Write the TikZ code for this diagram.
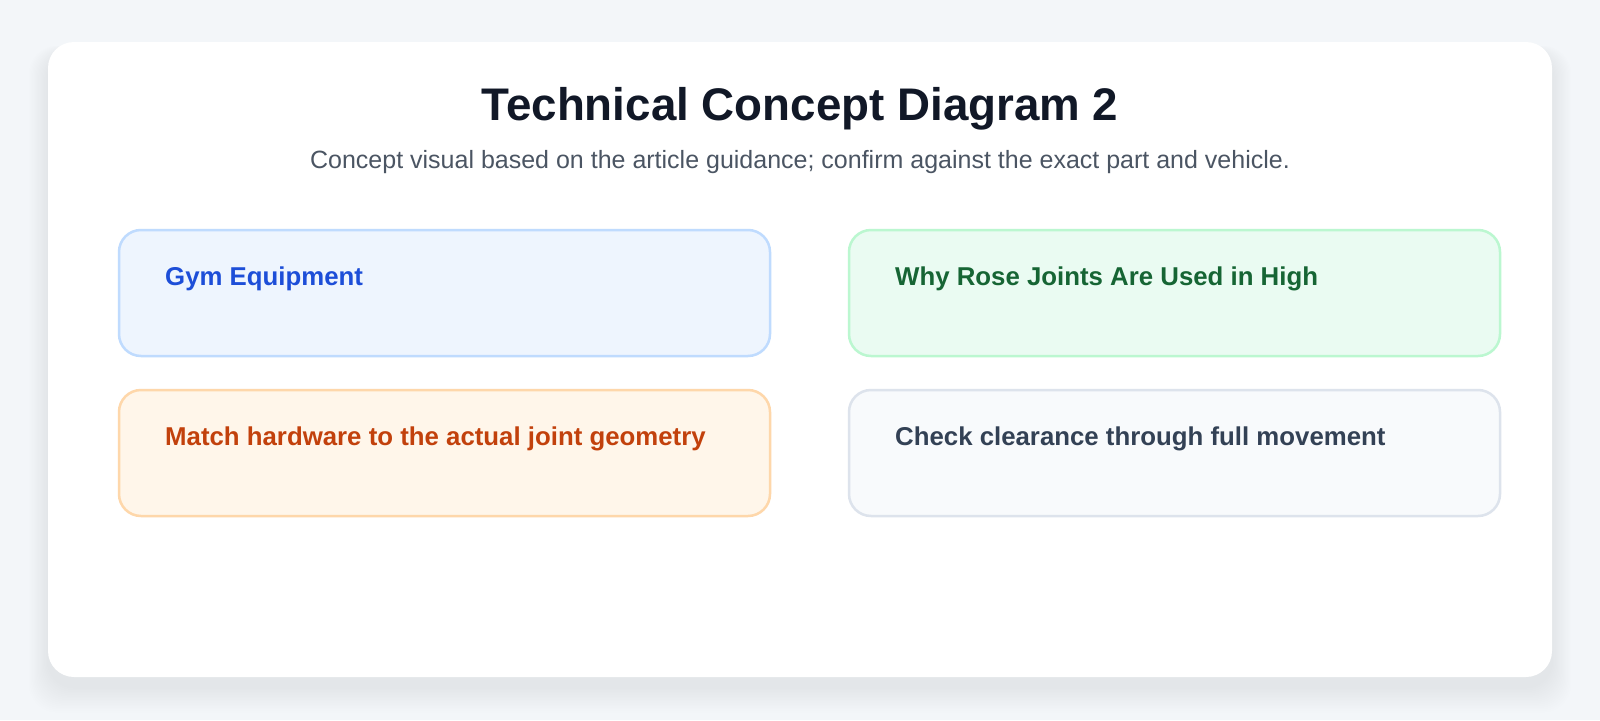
\documentclass[tikz,border=0pt]{standalone}
\usepackage{fontspec}
\setmainfont{Liberation Sans}
\definecolor{bgc}{HTML}{F3F6F9}
\definecolor{titlec}{HTML}{111827}
\definecolor{subc}{HTML}{4B5563}
\definecolor{bluefill}{HTML}{EEF5FE}
\definecolor{blueline}{HTML}{BFDBFE}
\definecolor{bluetext}{HTML}{1D4ED8}
\definecolor{greenfill}{HTML}{EAFBF2}
\definecolor{greenline}{HTML}{BBF7D0}
\definecolor{greentext}{HTML}{166534}
\definecolor{orangefill}{HTML}{FFF6EA}
\definecolor{orangeline}{HTML}{FED7AA}
\definecolor{orangetext}{HTML}{C2410C}
\definecolor{grayfill}{HTML}{F8FAFC}
\definecolor{grayline}{HTML}{DDE3EC}
\definecolor{graytext}{HTML}{334155}
\tikzset{
  card/.style={rectangle, rounded corners=22pt, line width=2.5pt, minimum width=651pt, minimum height=126pt, inner sep=0pt},
  cardtext/.style={anchor=base west, inner sep=0pt, font=\fontsize{25.8}{30}\selectfont\bfseries},
}
\begin{document}
\begin{tikzpicture}[x=1pt,y=-1pt]
\useasboundingbox (0,0) rectangle (1600,720);
\fill[bgc] (0,0) rectangle (1600,720);
% shadow
\foreach \i in {1,...,16}{
  \fill[black, opacity=0.0045, rounded corners=28pt] (48-\i*1.2,42+10-\i*0.4) rectangle (1552+\i*1.2,677+10+\i*1.6);
}
\fill[white, rounded corners=26pt] (48,42) rectangle (1552,677);
\node[anchor=base, inner sep=0pt, text=titlec, font=\fontsize{45.7}{50}\selectfont\bfseries] (title) at (800,120) {Technical Concept Diagram 2};
\node[anchor=base, inner sep=0pt, text=subc, font=\fontsize{25}{30}\selectfont] (subtitle) at (800,168) {Concept visual based on the article guidance; confirm against the exact part and vehicle.};
\node[card, draw=blueline, fill=bluefill] (b1) at (444.5,293) {};
\node[card, draw=greenline, fill=greenfill] (b2) at (1174.5,293) {};
\node[card, draw=orangeline, fill=orangefill] (b3) at (444.5,453) {};
\node[card, draw=grayline, fill=grayfill] (b4) at (1174.5,453) {};
\node[cardtext, text=bluetext] (t1) at (165,285) {Gym Equipment};
\node[cardtext, text=greentext] (t2) at (895,285) {Why Rose Joints Are Used in High};
\node[cardtext, text=orangetext] (t3) at (165,445) {Match hardware to the actual joint geometry};
\node[cardtext, text=graytext] (t4) at (895,445) {Check clearance through full movement};
\end{tikzpicture}
\end{document}
